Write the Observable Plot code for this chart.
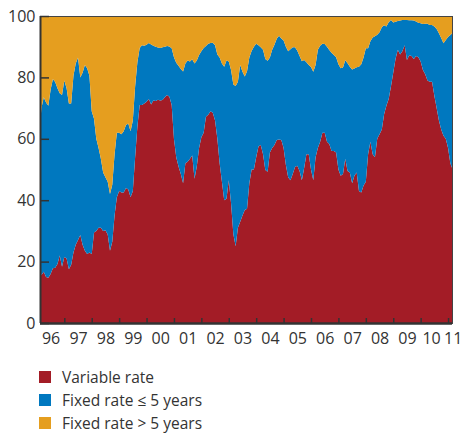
<!DOCTYPE html>
<html><head><meta charset="utf-8">
<script src="https://cdn.jsdelivr.net/npm/d3@7"></script>
<script src="https://cdn.jsdelivr.net/npm/@observablehq/plot@0.6"></script>
<style>
body{margin:0;background:#fff;font-family:"Open Sans",sans-serif;color:#333;}
#legend{padding-top:20.5px;}
.row{display:flex;align-items:center;height:23px;padding-left:39px;font-size:15.5px;line-height:23px;}
.sw{width:12px;height:12px;margin-right:11px;flex:none;}
</style></head><body><div id="chart"></div><div id="legend"></div>
<script>
const seriesNames = ["Variable rate", "Fixed rate \u2264 5 years", "Fixed rate > 5 years"];
const seriesColors = ["#a31c26", "#0078bf", "#e59e1f"];
const firstYear = 1996, firstMonth = 2; // monthly data, Feb 1996 – Mar 2011

const variableRate = [
  15.5,15.6,16.7,15,14.7,16,17.8,18,19.2,22,18.3,
  21.5,21,17.5,19,23,25.5,27,28.7,25.5,23.5,22.5,23,
  22.5,29.5,30,31,31,30,30.2,28.8,23.5,26.5,35,41,
  43,42.5,42.5,44,43.5,41,43,54,64,71,71,71.5,
  72.1,73,71.2,72.5,72.3,72.7,72.5,72.6,73.5,74.3,73.7,71,
  60,54,51,48.5,45.5,52,52.5,53.5,54.6,47,51,57,
  60.5,62,67.2,67.8,69,68.5,66,60,52,46,40,40.5,
  46.5,39,29,25,31,33,35,36.8,37.2,45.5,50,50,
  54,57.5,58,55,49.8,49.3,55.5,57,58,59.6,59.8,59.6,
  57,51.5,47.5,46.5,48.5,50.8,51.2,49.5,46.5,50.5,55,55,
  50,46.5,54,57,59,62,62,59,58.3,56,56,55.5,
  50,48,48.5,53.5,49.5,49,45.5,48,49,43,42.5,44.8,
  46,55,59,55,54,60,61.5,63,68,70.8,73,77,
  81.5,86,89,87.5,88.5,90.5,85.7,87.2,87,86,87,86.6,
  85.2,82.4,81,79,78.6,78.6,74,70,66,63,61,60,
  57,52,50
];
const fixedUpTo5 = [
  46.5,54.4,56.8,56.8,56.1,60,61.7,60.5,57.3,52.8,56,
  57.5,55.5,54,52.5,57.5,59,59.5,51.3,56,60.5,60.5,57.5,
  46.5,37,30,26,22.5,19,17.3,17.2,18.5,18.5,20,21,
  19,19,20,20.5,21.5,21.5,23,23,21,18.6,19.5,18.8,
  18.5,18.2,19.5,17.8,17.7,17,17.1,17.2,16.5,15.9,16.4,18.5,
  26.6,30.8,32.8,34.2,36.4,32.5,33,31.7,31.3,37.5,34.5,30.3,
  28,27.6,23,23.2,22.2,22.8,24.5,27.5,34.5,38.5,43.5,45,
  38.7,43.4,48.7,52.2,47.6,51,46.8,43.5,44.8,41,38.6,40,
  37,33,31.8,34,36.2,36.1,31,32,32.6,33,33.8,33.1,
  35,38.5,41,42.7,41.3,39,37.5,37.5,38.8,35.2,29.9,29,
  33.4,35.3,30,32,31.3,29,28.9,31,30.6,32,31.3,31.1,
  34.3,35,34.7,32.1,35.1,34.5,37.1,34.9,34.3,40.5,41.8,41.7,
  43.5,34.5,32.8,38,39.4,33.9,33.2,33.3,29,25.8,25,21.7,
  16.4,12.1,9.4,11,10.2,8.2,13,11.4,11.6,12.5,11.2,11.2,
  12.4,15,16.5,18.5,18.5,18.5,22.6,25.8,28.4,29.8,30.1,32.2,
  36.2,41.8,44.5
];
const fixedOver5 = [
  38,30,26.5,28.2,29.2,24,20.5,21.5,23.5,25.2,25.7,
  21,23.5,28.5,28.5,19.5,15.5,13.5,20,18.5,16,17,19.5,
  31,33.5,40,43,46.5,51,52.5,54,58,55,45,38,
  38,38.5,37.5,35.5,35,37.5,34,23,15,10.4,9.5,9.7,
  9.4,8.8,9.3,9.7,10,10.3,10.4,10.2,10,9.8,9.9,10.5,
  13.4,15.2,16.2,17.3,18.1,15.5,14.5,14.8,14.1,15.5,14.5,12.7,
  11.5,10.4,9.8,9,8.8,8.7,9.5,12.5,13.5,15.5,16.5,14.5,
  14.8,17.6,22.3,22.8,21.4,16,18.2,19.7,18,13.5,11.4,10,
  9,9.5,10.2,11,14,14.6,13.5,11,9.4,7.4,6.4,7.3,
  8,10,11.5,10.8,10.2,10.2,11.3,13,14.7,14.3,15.1,16,
  16.6,18.2,16,11,9.7,9,9.1,10,11.1,12,12.7,13.4,
  15.7,17,16.8,14.4,15.4,16.5,17.4,17.1,16.7,16.5,15.7,13.5,
  10.5,10.5,8.2,7,6.6,6.1,5.3,3.7,3,3.4,2,1.3,
  2.1,1.9,1.6,1.5,1.3,1.3,1.3,1.4,1.4,1.5,1.8,2.2,
  2.4,2.6,2.5,2.5,2.9,2.9,3.4,4.2,5.6,7.2,8.9,7.8,
  6.8,6.2,5.5
];
const yearLabels = ["96","97","98","99","00","01","02","03","04","05","06","07","08","09","10","11"];
const yTicks = [0, 20, 40, 60, 80, 100];

const xDomain = [1996.113, 2011.144];
const times = d3.range(variableRate.length).map(i => firstYear + (firstMonth - 1 + i) / 12);
const data = [];
times.forEach((t, i) => {
  data.push({t, s: seriesNames[0], v: variableRate[i]});
  data.push({t, s: seriesNames[1], v: fixedUpTo5[i]});
  data.push({t, s: seriesNames[2], v: fixedOver5[i]});
});
const yearTicks = d3.range(1997, 2012);
const labelPos = yearLabels.map((l, i) => i < yearLabels.length - 2 ? 1996.5 + i : (i === yearLabels.length - 2 ? 2010.38 : 2011.17));
const labelMap = new Map(labelPos.map((p, i) => [p, yearLabels[i]]));

const chart = Plot.plot({
  width: 461, height: 345,
  marginTop: 16, marginBottom: 22, marginLeft: 40, marginRight: 9,
  style: {fontFamily: "'Open Sans', sans-serif", fontSize: "16px", color: "#333", background: "#fff", overflow: "visible"},
  x: {domain: xDomain},
  y: {domain: [0, 100]},
  color: {domain: seriesNames, range: seriesColors},
  marks: [
    Plot.areaY(data, {x: "t", y: "v", fill: "s", clip: true}),
    Plot.frame({stroke: "#444", strokeWidth: 1}),
    Plot.ruleX([xDomain[0]], {stroke: "#333", strokeWidth: 2}),
    Plot.ruleY([0], {stroke: "#333", strokeWidth: 2.5}),
    Plot.axisY(yTicks, {tickSize: 0, tickPadding: 5, fontSize: 16, label: null}),
    Plot.axisY(yTicks, {tickSize: -9, tickFormat: () => "", label: null, stroke: "#333", strokeWidth: 1.5}),
    Plot.axisX(yearTicks, {tickSize: -5, tickFormat: () => "", label: null, stroke: "#333", strokeWidth: 1.5}),
    Plot.axisX(labelPos, {tickSize: 0, tickPadding: 9, fontSize: 16, label: null, tickFormat: d => labelMap.get(d)})
  ]
});
document.getElementById("chart").append(chart);

const legend = document.getElementById("legend");
seriesNames.forEach((name, i) => {
  const row = document.createElement("div");
  row.className = "row";
  const sw = document.createElement("span");
  sw.className = "sw";
  sw.style.background = seriesColors[i];
  const tx = document.createElement("span");
  tx.textContent = name;
  row.append(sw, tx);
  legend.append(row);
});
</script></body></html>
